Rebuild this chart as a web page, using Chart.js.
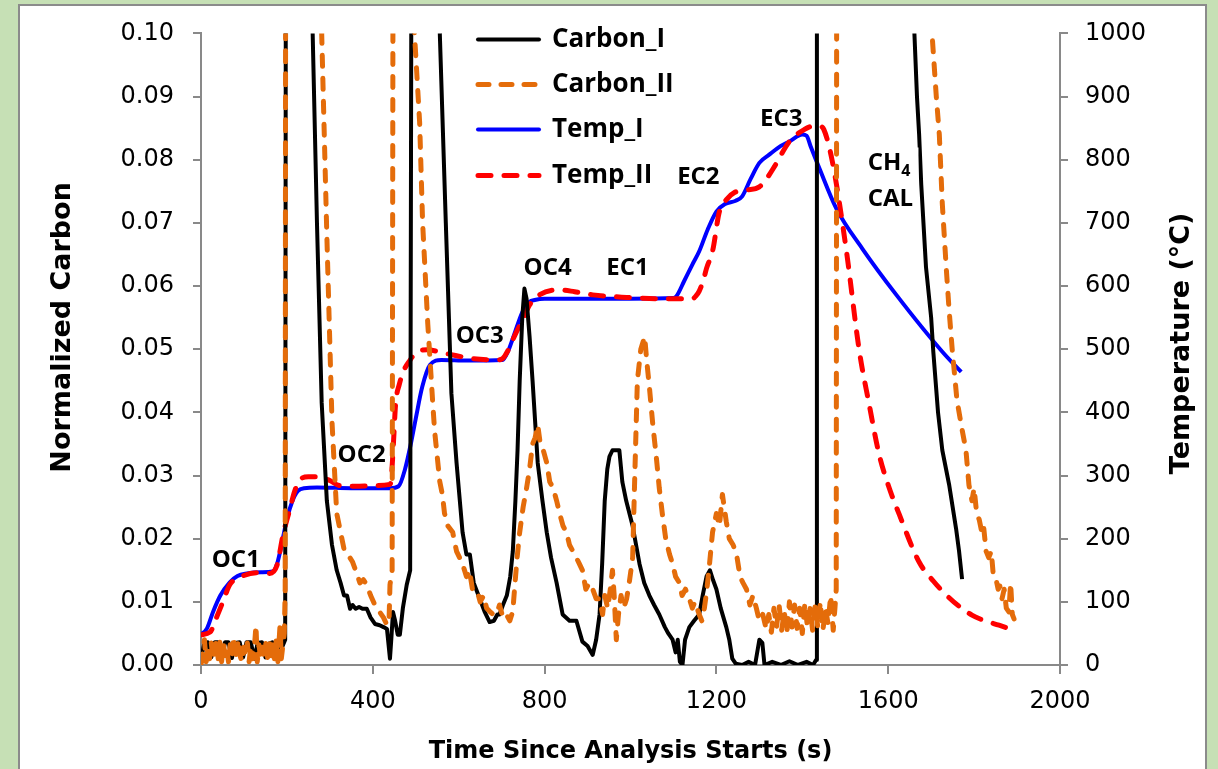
<!DOCTYPE html>
<html>
<head>
<meta charset="utf-8">
<script src="https://cdn.jsdelivr.net/npm/chart.js@4.4.1/dist/chart.umd.min.js"></script>
<style>
    html, body { margin: 0; padding: 0; background: #c6e0b5; overflow: hidden; }
    #panel { position: absolute; left: 18px; top: 4px; width: 1185px; height: 790px; border: 2px solid #8b8b8b; background: #fff; }
    canvas { display: block; margin-top: -6px; }
</style>
</head>
<body>
<div id="panel"><canvas id="chart" width="1185" height="769"></canvas></div>
<script>
// [time (s), normalized carbon]
const carbonI = [
    [0, 0.001], [8, 0.0035], [16, 0.0036], [24, 0.0012], [32, 0.0036], [40, 0.0036], [48, 0.001],
    [56, 0.0036], [64, 0.0036], [72, 0.0011], [80, 0.0035], [90, 0.0036], [98, 0.0012], [106, 0.0036],
    [116, 0.0036], [124, 0.001], [132, 0.0035], [142, 0.0036], [150, 0.0012], [158, 0.0034], [166, 0.0036],
    [174, 0.001], [182, 0.0035], [190, 0.003], [196, 0.004], [198, 0.15], [205, 0.4], [250, 0.4],
    [260, 0.1], [270, 0.07], [281, 0.0415], [293, 0.026], [305, 0.019], [316, 0.015], [325, 0.013],
    [333, 0.011], [340, 0.011], [347, 0.0089], [353, 0.0095], [360, 0.0089], [368, 0.0092], [376, 0.0089],
    [386, 0.0089], [395, 0.0075], [405, 0.0065], [416, 0.0063], [425, 0.006], [433, 0.0057], [437, 0.003],
    [440, 0.001], [443, 0.004], [447, 0.0084], [452, 0.007], [458, 0.0048], [463, 0.0048], [470, 0.009],
    [479, 0.0127], [487, 0.015], [491, 0.15], [500, 0.4], [545, 0.4], [556, 0.1], [570, 0.07],
    [583, 0.043], [595, 0.032], [609, 0.021], [618, 0.0175], [626, 0.0175], [635, 0.013], [649, 0.0105],
    [660, 0.0085], [672, 0.0068], [682, 0.007], [690, 0.008], [695, 0.008], [703, 0.0095], [712, 0.011],
    [720, 0.014], [726, 0.018], [732, 0.026], [737, 0.034], [742, 0.045], [748, 0.055], [753, 0.0596],
    [758, 0.058], [765, 0.052], [772, 0.045], [784, 0.032], [795, 0.026], [805, 0.021], [815, 0.017],
    [828, 0.013], [842, 0.008], [858, 0.007], [874, 0.007], [888, 0.0037], [900, 0.003], [912, 0.0016],
    [920, 0.004], [928, 0.008], [934, 0.016], [940, 0.026], [946, 0.031], [951, 0.033], [958, 0.034],
    [966, 0.034], [974, 0.034], [981, 0.029], [990, 0.026], [1005, 0.022], [1013, 0.019], [1021, 0.016],
    [1032, 0.013], [1044, 0.011], [1055, 0.0095], [1067, 0.008], [1080, 0.006], [1088, 0.005], [1098, 0.004],
    [1105, 0.002], [1110, 0.004], [1115, 0.0005], [1121, 0], [1127, 0.004], [1132, 0.005], [1137, 0.006],
    [1148, 0.007], [1160, 0.008], [1168, 0.011], [1177, 0.014], [1185, 0.015], [1192, 0.0135], [1200, 0.012],
    [1210, 0.009], [1223, 0.006], [1230, 0.004], [1237, 0.001], [1245, 0.0002], [1260, 0], [1275, 0.0005],
    [1290, 0], [1300, 0.004], [1307, 0.0035], [1312, 0], [1330, 0.0005], [1350, 0], [1370, 0.0006],
    [1390, 0], [1410, 0.0005], [1425, 0], [1432, 0.0008], [1434, 0.2], [1440, 0.5], [1640, 0.5],
    [1655, 0.15], [1661, 0.1], [1667, 0.09], [1672, 0.084], [1677, 0.076], [1688, 0.063], [1700, 0.055],
    [1705, 0.0496], [1716, 0.04], [1726, 0.034], [1742, 0.0285], [1758, 0.0216], [1765, 0.018], [1772, 0.0136]
];

const carbonII = [
    [0, 0], [4, 0.002], [8, 0.004], [12, 0.0005], [16, 0.003], [20, 0.001], [24, 0.0035], [28, 0.0008],
    [32, 0.0025], [36, 0.004], [40, 0.001], [44, 0.0036], [48, 0.0005], [52, 0.0035], [56, 0.0015],
    [60, 0.0028], [64, 0.0005], [68, 0.0032], [72, 0.001], [76, 0.0045], [80, 0.0008], [84, 0.003],
    [88, 0.004], [92, 0.0012], [96, 0.0005], [100, 0.0028], [104, 0.0015], [108, 0.0035], [112, 0.0005],
    [116, 0.003], [120, 0.001], [124, 0.0025], [128, 0.0063], [131, 0.0005], [135, 0.0032], [139, 0.001],
    [143, 0.0028], [147, 0.0008], [151, 0.0034], [155, 0.0012], [159, 0.004], [163, 0.0006], [167, 0.0036],
    [171, 0.001], [175, 0.0038], [179, 0.0005], [184, 0.0063], [187, 0.001], [191, 0.0033], [194, 0.005],
    [196, 0.012], [198, 0.2], [205, 0.5], [265, 0.5], [281, 0.1], [293, 0.068], [305, 0.0385],
    [316, 0.024], [325, 0.021], [334, 0.018], [342, 0.0175], [353, 0.0163], [360, 0.015], [370, 0.013],
    [378, 0.0135], [386, 0.0127], [395, 0.011], [405, 0.0095], [416, 0.0084], [425, 0.0075], [433, 0.0063],
    [438, 0.0075], [440, 0.0127], [445, 0.015], [449, 0.2], [460, 0.5], [485, 0.5], [497, 0.1],
    [509, 0.086], [516, 0.07], [528, 0.054], [540, 0.041], [544, 0.037], [550, 0.033], [556, 0.029],
    [562, 0.027], [567, 0.024], [575, 0.022], [586, 0.021], [595, 0.018], [602, 0.017], [609, 0.016],
    [618, 0.014], [625, 0.015], [632, 0.012], [642, 0.012], [650, 0.01], [658, 0.011], [665, 0.009],
    [672, 0.0085], [680, 0.008], [688, 0.008], [695, 0.0095], [703, 0.0075], [711, 0.008], [719, 0.007],
    [726, 0.0085], [730, 0.012], [736, 0.017], [742, 0.021], [750, 0.025], [758, 0.028], [765, 0.031],
    [772, 0.035], [778, 0.036], [784, 0.038], [790, 0.035], [797, 0.034], [805, 0.032], [812, 0.029],
    [820, 0.028], [828, 0.026], [835, 0.024], [843, 0.022], [851, 0.021], [858, 0.019], [866, 0.018],
    [874, 0.017], [881, 0.016], [888, 0.015], [896, 0.012], [904, 0.013], [912, 0.012], [920, 0.0105],
    [928, 0.0105], [935, 0.008], [940, 0.011], [947, 0.009], [953, 0.012], [958, 0.015], [962, 0.011],
    [967, 0.004], [972, 0.008], [978, 0.011], [984, 0.009], [991, 0.0105], [997, 0.013], [1005, 0.017],
    [1010, 0.03], [1016, 0.045], [1024, 0.05], [1033, 0.052], [1038, 0.048], [1044, 0.044], [1052, 0.038],
    [1060, 0.033], [1067, 0.028], [1074, 0.024], [1082, 0.02], [1091, 0.0175], [1098, 0.016], [1105, 0.014],
    [1114, 0.013], [1120, 0.011], [1128, 0.012], [1137, 0.0105], [1144, 0.009], [1150, 0.01], [1160, 0.008],
    [1166, 0.007], [1172, 0.009], [1177, 0.0115], [1184, 0.016], [1191, 0.021], [1200, 0.024], [1207, 0.022],
    [1214, 0.027], [1223, 0.0227], [1230, 0.02], [1239, 0.019], [1247, 0.0175], [1255, 0.014], [1262, 0.013],
    [1270, 0.012], [1278, 0.0095], [1285, 0.011], [1293, 0.009], [1300, 0.007], [1308, 0.008], [1316, 0.0057],
    [1322, 0.008], [1328, 0.0052], [1334, 0.009], [1340, 0.006], [1346, 0.0095], [1352, 0.0055], [1358, 0.0085],
    [1364, 0.005], [1370, 0.01], [1376, 0.006], [1382, 0.0095], [1388, 0.0058], [1394, 0.009], [1400, 0.005],
    [1406, 0.0098], [1412, 0.006], [1418, 0.009], [1424, 0.0055], [1430, 0.0095], [1436, 0.006], [1442, 0.01],
    [1448, 0.0055], [1454, 0.009], [1460, 0.0065], [1466, 0.011], [1472, 0.0055], [1476, 0.009], [1479, 0.012],
    [1481, 0.2], [1490, 0.5], [1690, 0.5], [1702, 0.1], [1712, 0.09], [1719, 0.084], [1726, 0.073],
    [1735, 0.063], [1742, 0.056], [1749, 0.05], [1760, 0.042], [1770, 0.038], [1781, 0.034], [1788, 0.0285],
    [1795, 0.026], [1800, 0.028], [1806, 0.024], [1812, 0.023], [1818, 0.021], [1822, 0.022], [1828, 0.018],
    [1834, 0.017], [1840, 0.018], [1845, 0.014], [1851, 0.0136], [1856, 0.012], [1860, 0.0125], [1865, 0.0105],
    [1870, 0.012], [1875, 0.009], [1881, 0.0084], [1885, 0.013], [1889, 0.008], [1893, 0.0073]
];

// [time (s), temperature (°C)]
const tempI = [
    [0, 48], [14, 58], [28, 84], [45, 110], [67, 131], [85, 141], [107, 145], [140, 147], [167, 148],
    [177, 160], [184, 179], [192, 205], [200, 231], [212, 258], [225, 275], [240, 280], [270, 281],
    [350, 280], [440, 280], [460, 283], [475, 310], [490, 355], [500, 390], [515, 440], [533, 475],
    [560, 483], [620, 482], [702, 483], [715, 497], [726, 517], [749, 560], [765, 575], [777, 578],
    [800, 580], [900, 580], [1000, 580], [1100, 581], [1107, 584], [1125, 608], [1144, 634], [1160, 655],
    [1180, 690], [1200, 718], [1220, 730], [1245, 735], [1260, 742], [1280, 770], [1300, 795], [1323, 808],
    [1350, 822], [1370, 829], [1400, 840], [1410, 838], [1420, 820], [1440, 786], [1479, 723], [1540, 659],
    [1619, 586], [1726, 496], [1770, 464]
];

const tempII = [
    [0, 48], [21, 52], [36, 75], [51, 100], [67, 127], [91, 139], [130, 146], [160, 145], [177, 158],
    [191, 206], [207, 247], [218, 275], [230, 293], [250, 298], [277, 298], [300, 292], [323, 284],
    [360, 283], [400, 284], [440, 286], [443, 295], [448, 350], [453, 412], [462, 445], [472, 466],
    [486, 482], [500, 494], [526, 499], [572, 493], [633, 485], [688, 483], [702, 485], [714, 497],
    [726, 515], [740, 535], [749, 546], [765, 570], [788, 586], [835, 594], [870, 591], [912, 586],
    [991, 582], [1067, 580], [1144, 580], [1152, 584], [1160, 592], [1170, 610], [1177, 628], [1191, 655],
    [1207, 718], [1225, 738], [1242, 748], [1270, 752], [1300, 757], [1320, 773], [1335, 789], [1370, 829],
    [1405, 848], [1425, 853], [1440, 853], [1450, 848], [1470, 797], [1502, 659], [1533, 496], [1555, 415],
    [1579, 333], [1600, 285], [1626, 238], [1672, 163], [1705, 133], [1735, 111], [1765, 93], [1795, 79],
    [1825, 70], [1858, 63], [1893, 55]
];

const seriesNames = ["Carbon_I", "Carbon_II", "Temp_I", "Temp_II"];

// label text, time (s), normalized carbon
const peakLabels = [
    ["OC1", 81, 0.0166], ["OC2", 374, 0.0333], ["OC3", 649, 0.0521], ["OC4", 807, 0.0628],
    ["EC1", 993, 0.0629], ["EC2", 1158, 0.0773], ["EC3", 1351, 0.0865], ["CAL", 1605, 0.0738]
];

const xTitle = "Time Since Analysis Starts (s)";
const yTitle = "Normalized Carbon";
const y2Title = "Temperature (°C)";

const toPoints = (rows) => rows.map(([x, y]) => ({ x, y }));

const axisGray = "#898989";
const tickFont = { family: "DejaVu Sans", size: 24 };

function drawRotated(ctx, text, x, y) {
    ctx.save();
    ctx.translate(x, y);
    ctx.rotate(-Math.PI / 2);
    ctx.fillText(text, 0, 0);
    ctx.restore();
}

const overlayPlugin = {
    id: "overlay",
    afterDraw(chart) {
        const { ctx, chartArea, scales } = chart;
        ctx.save();
        ctx.fillStyle = "#000";
        ctx.textAlign = "center";
        ctx.textBaseline = "middle";

        // axis titles
        ctx.font = 'bold 24px "DejaVu Sans"';
        ctx.fillText(xTitle, (chartArea.left + chartArea.right) / 2, chartArea.bottom + 87);
        ctx.font = 'bold 27px "DejaVu Sans"';
        drawRotated(ctx, yTitle, 43, chartArea.top + 294);
        drawRotated(ctx, y2Title, chartArea.right + 122, chartArea.top + 310);

        // peak labels
        ctx.font = 'bold 24px "Open Sans"';
        peakLabels.forEach(([text, t, c]) => {
            ctx.fillText(text, scales.x.getPixelForValue(t), scales.y.getPixelForValue(c));
        });

        // CH4 with subscript, white box behind it
        const chX = scales.x.getPixelForValue(1602);
        const chY = scales.y.getPixelForValue(0.0794);
        const wCH = ctx.measureText("CH").width;
        ctx.font = 'bold 16px "Open Sans"';
        const w4 = ctx.measureText("4").width;
        const startX = chX - (wCH + w4) / 2;
        ctx.fillStyle = "#fff";
        ctx.fillRect(startX - 4, chY - 16, wCH + w4 + 12, 36);
        ctx.fillStyle = "#000";
        ctx.textAlign = "left";
        ctx.font = 'bold 24px "Open Sans"';
        ctx.fillText("CH", startX, chY);
        ctx.font = 'bold 16px "Open Sans"';
        ctx.fillText("4", startX + wCH, chY + 8);

        // legend
        const rows = [6, 51, 96, 142];
        chart.data.datasets.forEach((ds, i) => {
            const y = chartArea.top + rows[i];
            ctx.save();
            ctx.strokeStyle = ds.borderColor;
            ctx.lineWidth = ds.borderWidth;
            ctx.lineCap = "round";
            ctx.setLineDash(ds.borderDash || []);
            ctx.beginPath();
            ctx.moveTo(chartArea.left + 277, y);
            ctx.lineTo(chartArea.left + 338, y);
            ctx.stroke();
            ctx.restore();
            ctx.font = 'bold 26px "Open Sans"';
            ctx.textAlign = "left";
            ctx.fillText(ds.label, chartArea.left + 351, y);
        });
        ctx.restore();
    }
};

new Chart(document.getElementById("chart"), {
    type: "line",
    data: {
        datasets: [
            {
                label: seriesNames[0],
                data: toPoints(carbonI),
                yAxisID: "y",
                borderColor: "#000000",
                borderWidth: 4,
                borderJoinStyle: "round",
                order: 1,
            },
            {
                label: seriesNames[1],
                data: toPoints(carbonII),
                yAxisID: "y",
                borderColor: "#e46c0a",
                borderWidth: 5,
                borderDash: [11, 12],
                borderCapStyle: "round",
                borderJoinStyle: "round",
                order: 0,
            },
            {
                label: seriesNames[2],
                data: toPoints(tempI),
                yAxisID: "y2",
                borderColor: "#0000ff",
                borderWidth: 4,
                cubicInterpolationMode: "monotone",
                order: 3,
            },
            {
                label: seriesNames[3],
                data: toPoints(tempII),
                yAxisID: "y2",
                borderColor: "#ff0000",
                borderWidth: 5,
                borderDash: [13, 13],
                borderCapStyle: "round",
                cubicInterpolationMode: "monotone",
                order: 2,
            },
        ],
    },
    options: {
        responsive: false,
        animation: false,
        events: [],
        elements: { point: { radius: 0 } },
        layout: { padding: { top: 20, left: 0, right: 0, bottom: 0 } },
        plugins: { legend: { display: false }, tooltip: { enabled: false } },
        scales: {
            x: {
                type: "linear",
                min: 0,
                max: 2000,
                ticks: {
                    stepSize: 400,
                    font: tickFont,
                    color: "#000",
                    padding: 13,
                    maxRotation: 0,
                    callback: (v) => String(v),
                },
                grid: { drawOnChartArea: false, color: axisGray, lineWidth: 2, tickLength: 9 },
                border: { color: axisGray, width: 2 },
                afterFit(scale) { scale.height = 104; },
            },
            y: {
                position: "left",
                min: 0,
                max: 0.1,
                ticks: {
                    stepSize: 0.01,
                    font: tickFont,
                    color: "#000",
                    padding: 19,
                    callback: (v) => v.toFixed(2),
                },
                grid: { drawOnChartArea: false, color: axisGray, lineWidth: 2, tickLength: 8 },
                border: { color: axisGray, width: 2 },
                afterFit(scale) { scale.width = 181; },
            },
            y2: {
                position: "right",
                min: 0,
                max: 1000,
                ticks: {
                    stepSize: 100,
                    font: tickFont,
                    color: "#000",
                    padding: 17,
                    callback: (v) => String(v),
                },
                grid: { drawOnChartArea: false, color: axisGray, lineWidth: 2, tickLength: 8 },
                border: { color: axisGray, width: 2 },
                afterFit(scale) { scale.width = 145; },
            },
        },
    },
    plugins: [overlayPlugin],
});
</script>
</body>
</html>
